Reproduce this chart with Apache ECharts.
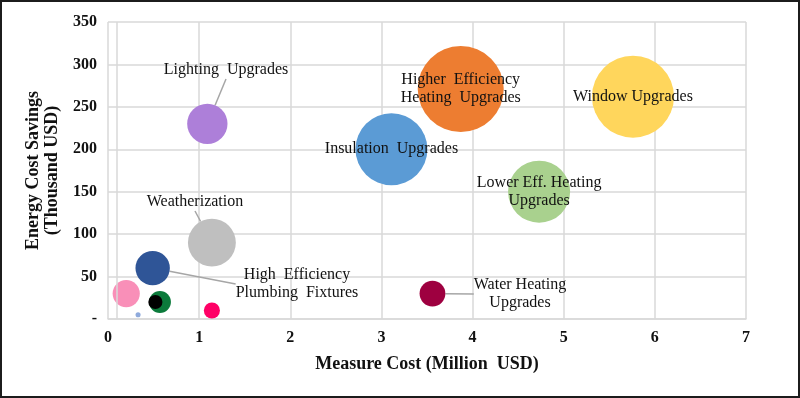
<!DOCTYPE html>
<html>
<head>
<meta charset="utf-8">
<script src="https://cdn.jsdelivr.net/npm/echarts@6/dist/echarts.min.js"></script>
<style>
  html, body { margin: 0; padding: 0; background: #fff; }
  #wrap { position: relative; width: 800px; height: 398px; }
  #main { width: 800px; height: 398px; }
  #frame { position: absolute; left: 0; top: 0; width: 800px; height: 398px; box-sizing: border-box; border: 2px solid #1c1c1c; pointer-events: none; }
</style>
</head>
<body>
<div id="wrap">
  <div id="main"></div>
  <div id="frame"></div>
</div>
<script>
// measure cost (million USD), savings (thousand USD), bubble size
const labels = [
  'Window Upgrades',
  'Higher  Efficiency\nHeating  Upgrades',
  'Insulation  Upgrades',
  'Lower Eff. Heating\nUpgrades',
  'Lighting  Upgrades',
  'Weatherization',
  'High  Efficiency\nPlumbing  Fixtures',
  '', '', '', '', '',
  'Water Heating\nUpgrades'
]
const costs = [5.76, 3.87, 3.11, 4.73, 1.09, 1.14, 0.49, 0.2, 0.57, 0.52, 1.14, 0.33, 3.56]
const savings = [262, 271, 200, 150, 230, 90, 60, 30, 20, 20, 10, 5, 30]
const sizes = [91, 100, 70, 52, 22, 31, 16, 10, 6.5, 2.7, 3.5, 0.35, 9]
const colors = ['#ffd65c', '#ed7d31', '#5b9bd5', '#a9d18e', '#ad7fd9', '#bfbfbf', '#2f5597',
  '#f98fb8', '#0b7a3b', '#000000', '#ff0066', '#8faadc', '#9e0040']
const xTicks = [0, 1, 2, 3, 4, 5, 6, 7]
const yTicks = [0, 50, 100, 150, 200, 250, 300, 350]

// labels pulled out of their bubble, with a leader line (pixel anchor of the text)
const moved = {
  'Lighting  Upgrades': [226, 70],
  'Weatherization': [195, 202],
  'High  Efficiency\nPlumbing  Fixtures': [297, 284],
  'Water Heating\nUpgrades': [520, 294]
}

const chart = echarts.init(document.getElementById('main'))

const data = costs.map((c, i) => ({
  value: [c, savings[i], sizes[i]],
  name: labels[i],
  itemStyle: { color: colors[i], opacity: 1 },
  label: { show: labels[i] !== '' },
  labelLine: { show: !!moved[labels[i]] }
}))

const option = {
  animation: false,
  grid: { left: 108, right: 54, top: 22, bottom: 79 },
  xAxis: {
    type: 'value',
    min: xTicks[0],
    max: xTicks[xTicks.length - 1],
    interval: 1,
    name: 'Measure Cost (Million  USD)',
    nameLocation: 'middle',
    nameGap: 36,
    nameTextStyle: { fontFamily: 'Liberation Serif', fontWeight: 'bold', fontSize: 18, color: '#111' },
    axisLine: { show: true, lineStyle: { color: '#d9d9d9', width: 1.5 } },
    axisTick: { show: false },
    axisLabel: { margin: 11, fontFamily: 'Liberation Serif', fontWeight: 'bold', fontSize: 16, color: '#111' },
    splitLine: { show: true, lineStyle: { color: '#d9d9d9', width: 1.5 } }
  },
  yAxis: {
    type: 'value',
    min: yTicks[0],
    max: yTicks[yTicks.length - 1],
    interval: 50,
    name: 'Energy Cost Savings\n(Thousand USD)',
    nameLocation: 'middle',
    nameGap: 45,
    nameTextStyle: { fontFamily: 'Liberation Serif', fontWeight: 'bold', fontSize: 18, lineHeight: 19, color: '#111' },
    axisLine: { show: false },
    axisTick: { show: false },
    axisLabel: {
      margin: 11,
      fontFamily: 'Liberation Serif', fontWeight: 'bold', fontSize: 16, color: '#111',
      formatter: v => (v === 0 ? '-' : v)
    },
    splitLine: { show: true, lineStyle: { color: '#d9d9d9', width: 1.5 } }
  },
  series: [
    {
      type: 'scatter',
      data: data,
      symbolSize: d => 8.6 * Math.sqrt(d[2]),
      label: {
        position: 'inside',
        formatter: p => p.name,
        fontFamily: 'Liberation Serif',
        fontSize: 16,
        lineHeight: 18,
        color: '#111',
        align: 'center'
      },
      labelLine: { lineStyle: { color: '#a6a6a6', width: 1.5 } },
      labelLayout: p => {
        const pos = moved[labels[p.dataIndex]]
        if (!pos) return {}
        return { x: pos[0], y: pos[1], align: 'center', verticalAlign: 'middle' }
      },
      markLine: {
        silent: true,
        symbol: 'none',
        label: { show: false },
        lineStyle: { color: '#d9d9d9', width: 1.5, type: 'solid' },
        data: [{ xAxis: 0.1 }]
      }
    }
  ]
}

chart.setOption(option)
</script>
</body>
</html>
